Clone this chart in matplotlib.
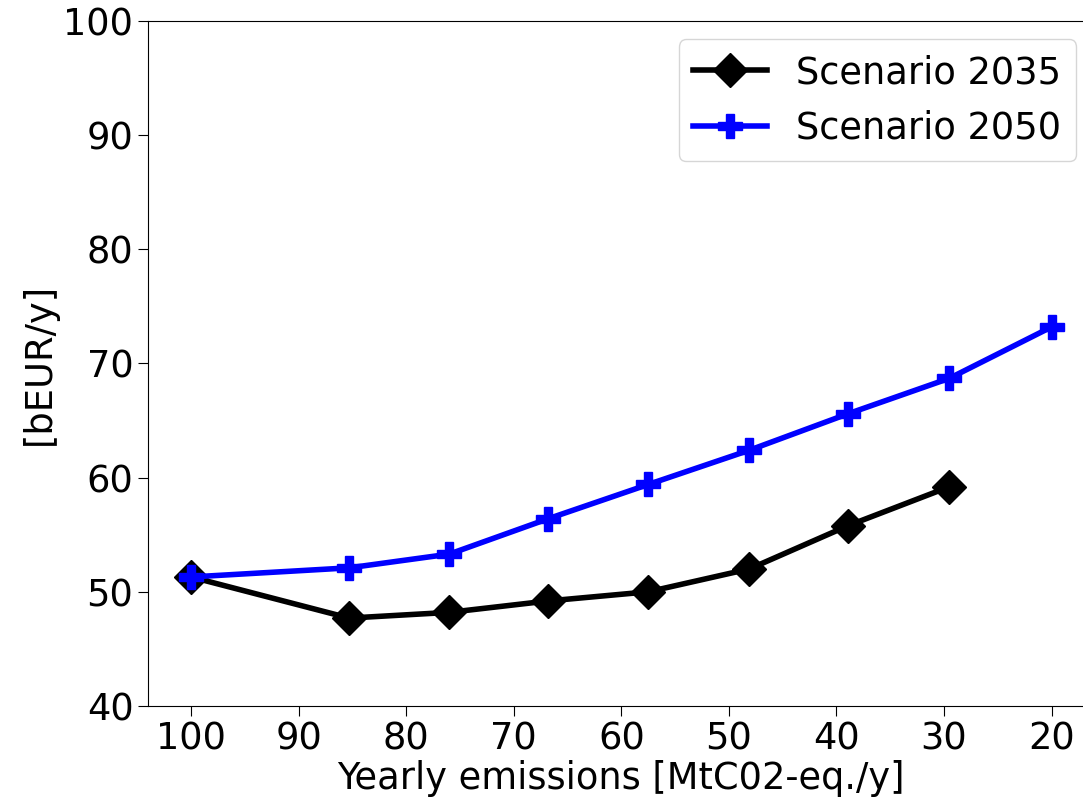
import matplotlib
matplotlib.use("Agg")
import matplotlib.pyplot as plt

emis_2035 = [100, 85.3, 76, 66.8, 57.5, 48.1, 38.9, 29.5]
cost_2035 = [51.3, 47.7, 48.2, 49.2, 50.0, 52.0, 55.8, 59.2]

emis_2050 = [100, 85.3, 76, 66.8, 57.5, 48.1, 38.9, 29.5, 20]
cost_2050 = [51.3, 52.1, 53.3, 56.4, 59.4, 62.4, 65.6, 68.7, 73.2]

plt.rcParams['font.size'] = 26.5
plt.rcParams['xtick.major.size'] = 7
plt.rcParams['ytick.major.size'] = 7

fig = plt.figure(figsize=(10.83, 8.05), dpi=100)
ax = fig.add_axes([0.1367, 0.123, 0.874, 0.851])

ax.plot(emis_2035, cost_2035, color='black', marker='D', markersize=17,
        linewidth=4, label='Scenario 2035')
ax.plot(emis_2050, cost_2050, color='blue', marker='P', markersize=17,
        linewidth=4, label='Scenario 2050')

ax.set_xlim(104, 16)
ax.set_ylim(40, 100)
ax.set_xticks([100, 90, 80, 70, 60, 50, 40, 30, 20])
ax.set_xlabel('Yearly emissions [MtC02-eq./y]', labelpad=2)
ax.set_ylabel('[bEUR/y]')
ax.legend(loc='upper right')

fig.savefig('out.png', dpi=100)
